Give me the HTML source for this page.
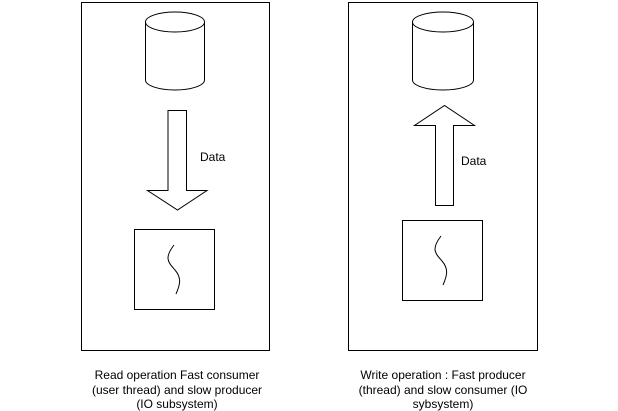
<!DOCTYPE html>
<html><head><style>body{margin:0;background:#fff}svg{display:block}</style></head>
<body>
<svg width="618" height="411" viewBox="0 0 618 411" xmlns="http://www.w3.org/2000/svg" font-family="Liberation Sans, Arial, sans-serif" font-size="12">
<g fill="none" stroke="#000" stroke-width="1">
<rect x="81.5" y="2.5" width="188" height="348"/>
<rect x="348.5" y="2.5" width="189" height="348"/>
<path d="M145.5 22 A29.5 10 0 0 1 204.5 22 L204.5 80 A29.5 10 0 0 1 145.5 80 Z" fill="#fff"/>
<path d="M145.5 22 A29.5 10 0 0 0 204.5 22"/>
<path d="M412.5 22 A30.5 10 0 0 1 473.5 22 L473.5 80 A30.5 10 0 0 1 412.5 80 Z" fill="#fff"/>
<path d="M412.5 22 A30.5 10 0 0 0 473.5 22"/>
<path d="M168 110.5 L186.5 110.5 L186.5 190.5 L207 190.5 L177.5 210 L147.5 190.5 L168 190.5 Z"/>
<path d="M435.5 205.5 L453.5 205.5 L453.5 125.5 L474.5 125.5 L444.5 105.5 L414.5 125.5 L435.5 125.5 Z"/>
<rect x="134.5" y="229.5" width="80" height="80"/>
<rect x="402.5" y="220.5" width="80" height="80"/>
<path d="M174 245 C164 258, 168 262, 175 270 C182 278, 180 285, 176 294"/>
<path d="M441 236 C431 249, 435 253, 442 261 C449 269, 447 276, 443 285"/>
</g>
<g fill="#000">
<text x="200" y="161">Data</text>
<text x="461" y="165">Data</text>
<g text-anchor="middle">
<text x="177" y="379">Read operation Fast consumer</text>
<text x="177" y="394">(user thread) and slow producer</text>
<text x="177" y="408">(IO subsystem)</text>
<text x="443" y="379">Write operation : Fast producer</text>
<text x="443" y="394">(thread) and slow consumer (IO</text>
<text x="443" y="408">sybsystem)</text>
</g>
</g>
</svg>
</body></html>
